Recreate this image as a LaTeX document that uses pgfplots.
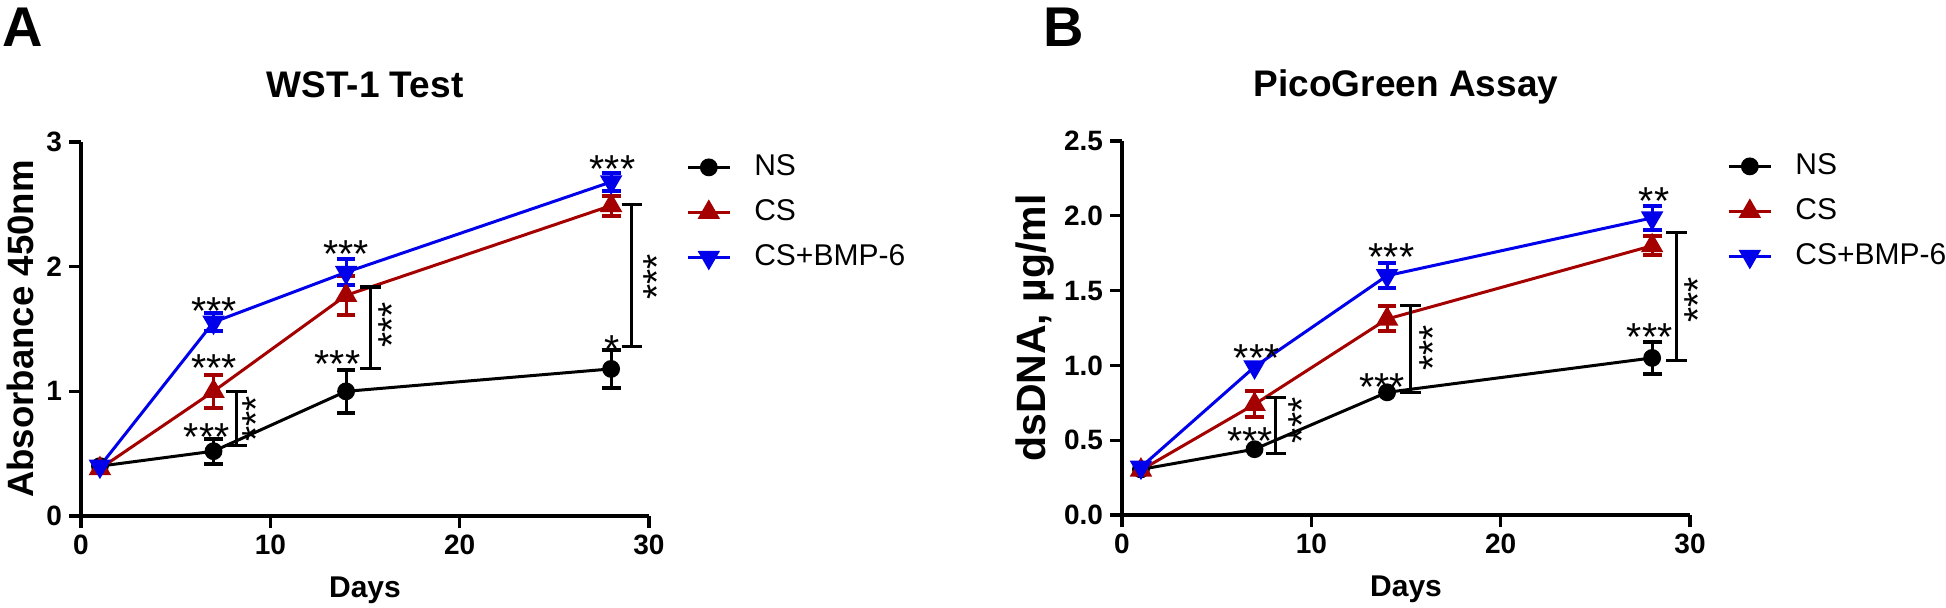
\documentclass[border=0pt]{standalone}
\usepackage{fontspec}
\setmainfont{Liberation Sans}
\usepackage{pgfplots}
\pgfplotsset{compat=1.18}

\definecolor{csred}{RGB}{165,0,0}
\definecolor{bmpblue}{RGB}{0,0,235}

\tikzset{
  stars/.style={font=\fontsize{19.5}{19.5}\selectfont, inner sep=0pt, anchor=center, yshift=-4.5pt},
  vstars/.style={font=\fontsize{19.5}{19.5}\selectfont, inner sep=0pt, anchor=center, rotate=90},
  brk/.style={black, line width=1.5pt},
}

\pgfplotsset{
  gp/.style={
    width=284pt, height=187pt, scale only axis,
    axis lines*=left,
    axis line style={line width=1.6pt, black},
    every tick/.style={line width=1.6pt, black},
    tick align=outside, major tick length=6pt,
    xmin=0, xmax=30, xtick={0,10,20,30},
    minor tick num=0,
    clip=false,
    /pgf/number format/assume math mode=true,
    ticklabel style={font=\fontsize{14}{14}\selectfont\bfseries},
    xlabel style={font=\fontsize{15}{15}\selectfont\bfseries, at={(axis description cs:0.5,0)}, anchor=base, yshift=-40.5pt},
    title style={font=\fontsize{18.5}{18.5}\selectfont\bfseries, at={(axis description cs:0.5,1)}, anchor=base, yshift=16.5pt},
    legend cell align=left,
    legend style={at={(axis description cs:1.065,0.968)}, anchor=north west,
      draw=none, fill=none, inner sep=0pt, row sep=9.5pt,
      font=\fontsize{15}{15}\selectfont,
      nodes={inner sep=0pt, text height=10.5pt, text depth=2.5pt},
      /tikz/every odd column/.append style={column sep=11.5pt}},
    legend image code/.code={
      \draw[##1, mark=none] (0pt,0pt) -- (21pt,0pt);
      \draw[##1, draw=none] plot coordinates {(10.5pt,0pt)};
    },
  },
  ns/.style={black, line width=1.5pt, mark=*, mark size=3.7pt},
  cs/.style={csred, line width=1.5pt, mark=triangle*, mark size=5pt, mark options={solid}},
  bmp/.style={bmpblue, line width=1.5pt, mark=triangle*, mark size=5pt, mark options={rotate=180}},
  eb/.style={draw=none, mark=none, forget plot,
    error bars/.cd, y dir=both, y explicit,
    error bar style={line width=1.5pt, draw=#1},
    error mark options={rotate=90, mark size=4.7pt, line width=2pt, draw=#1}},
}

\begin{document}
\begin{tikzpicture}
\path[use as bounding box] (-40.5pt,-45.5pt) rectangle (932.5pt,258pt);

\node[anchor=base west, inner sep=0pt, font=\fontsize{28}{28}\selectfont\bfseries] at (-39.5pt,235pt) {A};
\node[anchor=base west, inner sep=0pt, font=\fontsize{28}{28}\selectfont\bfseries] at (481pt,235pt) {B};

% ---------------- WST-1
\begin{axis}[gp, at={(0pt,0pt)},
  ymin=0, ymax=3, ytick={0,1,2,3},
  title={WST-1 Test}, xlabel={Days}, ylabel={Absorbance 450nm},
  ylabel style={font=\fontsize{18.3}{18.3}\selectfont\bfseries, at={(axis description cs:-0.0845,0.5)}, anchor=base},
]
\addplot[ns] coordinates {(1,0.40) (7,0.52) (14,1.00) (28,1.18)};
\addlegendentry{NS}
\addplot[eb=black] coordinates {(7,0.52) +- (0,0.10) (14,1.00) +- (0,0.17) (28,1.18) +- (0,0.15)};
\addplot[cs] coordinates {(1,0.38) (7,1.00) (14,1.77) (28,2.49)};
\addlegendentry{CS}
\addplot[eb=csred] coordinates {(7,1.00) +- (0,0.13) (14,1.77) +- (0,0.155) (28,2.49) +- (0,0.08)};
\addplot[bmp] coordinates {(1,0.40) (7,1.555) (14,1.955) (28,2.68)};
\addlegendentry{CS+BMP-6}
\addplot[eb=bmpblue] coordinates {(7,1.555) +- (0,0.07) (14,1.955) +- (0,0.105) (28,2.68) +- (0,0.07)};

% brackets
\draw[brk] (axis cs:7.65,1.0) -- (axis cs:8.75,1.0) (axis cs:8.2,1.0) -- (axis cs:8.2,0.567) (axis cs:7.65,0.567) -- (axis cs:8.75,0.567);
\draw[brk] (axis cs:14.75,1.837) -- (axis cs:15.85,1.837) (axis cs:15.3,1.837) -- (axis cs:15.3,1.187) (axis cs:14.75,1.187) -- (axis cs:15.85,1.187);
\draw[brk] (axis cs:28.55,2.497) -- (axis cs:29.65,2.497) (axis cs:29.1,2.497) -- (axis cs:29.1,1.36) (axis cs:28.55,1.36) -- (axis cs:29.65,1.36);

\node[stars] at (axis cs:6.64,0.706) {***};
\node[stars] at (axis cs:7.04,1.26) {***};
\node[stars] at (axis cs:7.04,1.72) {***};
\node[stars] at (axis cs:13.55,1.29) {***};
\node[stars] at (axis cs:14.0,2.17) {***};
\node[stars] at (axis cs:28.07,2.855) {***};
\node[stars] at (axis cs:28.07,1.41) {*};
\node[vstars] at (axis cs:9.27,0.78) {***};
\node[vstars] at (axis cs:16.42,1.535) {***};
\node[vstars] at (axis cs:30.42,1.92) {***};
\end{axis}

% ---------------- PicoGreen
\begin{axis}[gp, at={(520.5pt,0.5pt)},
  ymin=0, ymax=2.5, ytick={0,0.5,1,1.5,2,2.5},
  yticklabel style={/pgf/number format/.cd, fixed, fixed zerofill, precision=1},
  title={PicoGreen Assay}, xlabel={Days}, ylabel={dsDNA, µg/ml},
  ylabel style={font=\fontsize{20.5}{20.5}\selectfont\bfseries, at={(axis description cs:-0.134,0.5)}, anchor=base},
]
\addplot[ns] coordinates {(1,0.305) (7,0.44) (14,0.82) (28,1.05)};
\addlegendentry{NS}
\addplot[eb=black] coordinates {(28,1.05) +- (0,0.107)};
\addplot[cs] coordinates {(1,0.30) (7,0.74) (14,1.31) (28,1.80)};
\addlegendentry{CS}
\addplot[eb=csred] coordinates {(7,0.74) +- (0,0.087) (14,1.313) +- (0,0.082) (28,1.80) +- (0,0.064)};
\addplot[bmp] coordinates {(1,0.32) (7,0.99) (14,1.60) (28,1.986)};
\addlegendentry{CS+BMP-6}
\addplot[eb=bmpblue] coordinates {(14,1.60) +- (0,0.083) (28,1.986) +- (0,0.078)};

\draw[brk] (axis cs:7.58,0.785) -- (axis cs:8.68,0.785) (axis cs:8.13,0.785) -- (axis cs:8.13,0.41) (axis cs:7.58,0.41) -- (axis cs:8.68,0.41);
\draw[brk] (axis cs:14.7,1.40) -- (axis cs:15.8,1.40) (axis cs:15.25,1.40) -- (axis cs:15.25,0.82) (axis cs:14.7,0.82) -- (axis cs:15.8,0.82);
\draw[brk] (axis cs:28.75,1.89) -- (axis cs:29.85,1.89) (axis cs:29.3,1.89) -- (axis cs:29.3,1.036) (axis cs:28.75,1.036) -- (axis cs:29.85,1.036);

\node[stars] at (axis cs:6.76,0.556) {***};
\node[stars] at (axis cs:7.11,1.108) {***};
\node[stars] at (axis cs:13.75,0.915) {***};
\node[stars] at (axis cs:14.23,1.787) {***};
\node[stars] at (axis cs:27.87,1.249) {***};
\node[stars] at (axis cs:28.1,2.159) {**};
\node[vstars] at (axis cs:9.52,0.633) {***};
\node[vstars] at (axis cs:16.42,1.115) {***};
\node[vstars] at (axis cs:30.42,1.44) {***};
\end{axis}
\end{tikzpicture}
\end{document}
